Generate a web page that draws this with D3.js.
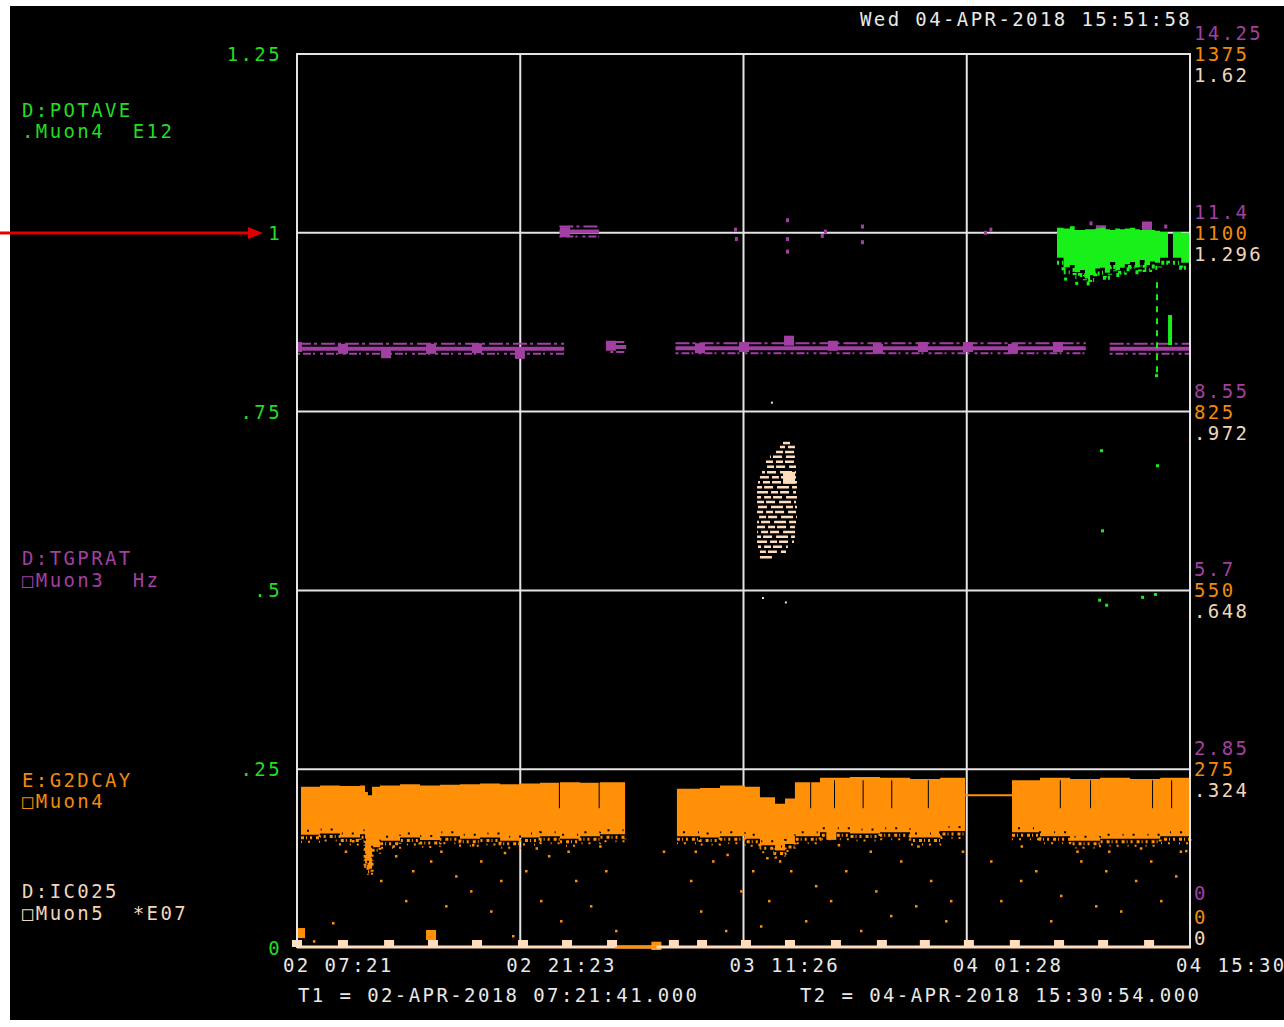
<!DOCTYPE html>
<html><head><meta charset="utf-8">
<script src="https://cdn.jsdelivr.net/npm/d3@7"></script>
<style>
body{margin:0;background:#fff}
svg{display:block}
text{font-family:"DejaVu Sans Mono","Liberation Mono",monospace;font-size:19px;letter-spacing:2.4px;white-space:pre}
</style>
</head><body><svg id="c" width="1284" height="1027"></svg>
<script>
// ---------- data ----------
const headerText = "Wed 04-APR-2018 15:51:58";
const t1Text = "T1 = 02-APR-2018 07:21:41.000";
const t2Text = "T2 = 04-APR-2018 15:30:54.000";
const spanHours = 56.1536;                       // T2 - T1 in hours
const timeTicks = [0, 14.0384, 28.0768, 42.1152, 56.1536];
const timeTickLabels = ["02 07:21","02 21:23","03 11:26","04 01:28","04 15:30"];
const leftTicks = [0, 0.25, 0.5, 0.75, 1, 1.25];
const leftTickLabels = ["0",".25",".5",".75","1","1.25"];
const purpleTickLabels = ["0","2.85","5.7","8.55","11.4","14.25"];
const orangeTickLabels = ["0","275","550","825","1100","1375"];
const paleTickLabels = ["0",".324",".648",".972","1.296","1.62"];

// D:POTAVE (green, E12, 0..1.25): [hour, high, low]
const greenBand = [
 [47.79,1.007,0.965],[48.2,1.006,0.952],[48.6,1.009,0.955],[48.9,1.004,0.945],[49.24,1.004,0.948],[49.55,1.005,0.936],
 [49.87,1.005,0.941],[50.2,1.006,0.950],[50.5,1.007,0.951],[50.8,1.005,0.944],[51.12,1.004,0.959],[51.45,1.006,0.948],
 [51.75,1.005,0.951],[52.05,1.006,0.956],[52.38,1.007,0.959],[52.7,1.005,0.952],[53.0,1.004,0.962],[53.3,1.004,0.955],
 [53.64,1.004,0.960],[53.95,1.003,0.958],[54.27,1.001,0.965],[54.77,1.001,0.962]
];
const greenBand2 = [[55.08,1.001,0.965],[55.6,1.000,0.958],[56.15,1.000,0.962]];
const greenDots = [[50.56,0.696],[50.62,0.584],[50.44,0.487],[50.88,0.480],[53.14,0.491],[53.95,0.495],[54.08,0.675],[54.02,0.801],[48.3,0.936],[49.0,0.930]];
const greenStem = [54.08, 0.931, 0.801];
const greenBar = [54.9, 0.885, 0.843];

// D:TGPRAT (purple, Hz, 0..14.25): segments [startHour, endHour, value]
const purpleSegments = [[0,16.8,9.55],[16.5,19.0,11.42],[19.7,20.7,9.58],[23.8,49.6,9.56],[51.1,56.15,9.55]];
const purpleMarkers = [[0,9.58],[2.89,9.55],[5.6,9.48],[8.43,9.55],[11.32,9.56],[14.02,9.47],[16.85,11.41],[19.74,9.6],
 [25.34,9.56],[28.11,9.58],[30.94,9.68],[33.7,9.6],[36.53,9.55],[39.36,9.58],[42.19,9.58],[45.02,9.55],[47.85,9.58],[50.56,11.44],[53.45,11.5]];
const purpleDots = [[27.54,11.45],[27.6,11.3],[30.81,11.6],[30.81,11.3],[30.81,11.1],[33.2,11.42],[33.0,11.35],[35.53,11.5],[35.53,11.25],
 [43.26,11.4],[43.6,11.45],[49.9,11.55],[51.3,11.3],[54.6,11.5],[49.5,11.35]];

// E:G2DCAY (orange, 0..1375): [hour, high, low]
const orangeBandA = [[0.25,248,174],[1.45,250,176],[2.70,249,170],[3.96,250,175],[4.28,240,130],[4.46,235,122],[4.72,248,155],
 [5.22,250,165],[6.48,252,170],[7.73,250,166],[8.99,251,172],[10.25,252,168],[11.51,253,170],[12.77,252,165],[14.02,253,170],
 [15.28,254,172],[16.54,255,168],[17.8,254,172],[19.05,255,175],[20.63,253,172]];
const orangeBandB = [[23.89,245,172],[25.34,246,170],[26.6,250,172],[28.17,248,168],[29.11,232,158],[30.06,222,150],[30.69,230,160],
 [31.31,255,172],[32.89,262,178],[34.77,263,176],[36.66,262,178],[38.55,260,170],[40.44,262,180],[42.01,258,178]];
const orangeBandC = [[44.96,258,178],[46.72,262,172],[48.61,260,165],[50.5,262,168],[52.39,260,168],[54.28,262,172],[56.15,260,175]];
const orangeBridge = [[42.01,235],[44.96,235]];
const orangeGapZero = [[20.0,0],[22.6,0]];
const orangeBreaks = [16.5,19.0,32.3,33.8,35.6,37.4,39.7,48.0,49.9,53.8,55.0];
const orangeMarkers = [[0.19,23],[8.43,20],[22.6,2],[33.6,174]];
const orangeDots = [
 [3.46,166],[4.40,128],[5.22,105],[6.16,143],[6.79,74],[7.23,120],[8.36,135],[9.31,66],[9.94,112],[10.88,89],[11.51,135],
 [12.14,58],[12.77,105],[13.52,20],[14.34,120],[15.28,74],[15.78,143],[16.54,43],[17.48,105],[18.42,66],[19.37,120],[20.0,28],
 [24.71,105],[25.34,58],[26.1,135],[26.91,28],[27.86,89],[28.61,120],[29.11,35],[29.62,74],[31.0,120],[31.94,43],[32.57,97],
 [33.51,74],[34.46,120],[35.4,28],[36.35,89],[37.29,51],[37.92,135],[38.86,66],[39.8,105],[40.75,43],[41.06,74],
 [43.58,135],[44.21,74],[45.46,105],[46.41,120],[47.35,43],[47.98,82],[49.24,135],[50.18,66],[50.81,120],[51.75,58],
 [52.69,105],[53.64,135],[54.27,74],[55.21,112],[55.84,151],[2.2,40],[1.0,12],[23.0,150],[41.8,150],
 [3.0,150],[6.0,158],[9.0,150],[11.0,160],[13.0,148],[15.0,155],[17.0,150],[19.0,158],[25.0,150],[27.0,145],[34.0,160],
 [36.0,150],[39.0,158],[45.5,158],[49.0,150],[51.0,150],[53.0,155],[55.5,150],[29.5,140],[30.3,135]
];

// D:IC025 (pale, *E07, 0..1.62): rows [startHour, endHour, value]
const paleRows = [[30.56,31.0,0.915],[30.37,31.31,0.908],[30.06,31.31,0.899],[29.74,31.31,0.890],[29.49,31.38,0.881],
 [29.37,31.38,0.872],[29.24,31.38,0.862],[29.11,31.38,0.853],[28.99,31.44,0.844],[28.93,31.44,0.835],[28.93,31.38,0.826],
 [28.93,31.44,0.817],[28.93,31.38,0.808],[28.86,31.44,0.799],[28.93,31.38,0.790],[28.93,31.44,0.781],[28.93,31.38,0.772],
 [28.93,31.31,0.763],[28.93,31.38,0.754],[28.93,31.31,0.745],[28.93,31.25,0.736],[28.99,30.87,0.727],[29.11,30.75,0.718],[29.11,30.06,0.708]];
const paleMarkerBig = [30.94,0.852];
const paleDots = [[29.24,0.636],[30.68,0.628],[29.8,0.99]];
const paleBottomMarkers = [0,2.89,5.79,8.55,11.32,14.21,16.98,19.81,23.7,25.47,28.23,31.0,33.89,36.78,39.48,42.25,45.14,47.92,50.69,53.58];

// ---------- drawing ----------
const svg = d3.select("#c");
const L = 297, R = 1190, T = 54, B = 948;
const x = d3.scaleLinear().domain([0, spanHours]).range([L, R]);
const yL = d3.scaleLinear().domain([0, 1.25]).range([B, T]);
const yP = d3.scaleLinear().domain([0, 14.25]).range([B, T]);
const yO = d3.scaleLinear().domain([0, 1375]).range([B, T]);
const yW = d3.scaleLinear().domain([0, 1.62]).range([B, T]);

const GREEN = "#19f019", GREENT = "#22dd22", PURPLE = "#a23fa2", ORANGE = "#ff9008", ORANGET = "#f08a10", PALE = "#ffdcbc", PALET = "#f0d6bc", WHITE = "#e4e4e4";

svg.append("rect").attr("x", 10).attr("y", 6).attr("width", 1274).attr("height", 1014).attr("fill", "#000");
svg.append("defs").append("clipPath").attr("id", "clip").append("rect").attr("x", L).attr("y", T - 12).attr("width", R - L + 4).attr("height", B - T + 14);

// grid
const grid = svg.append("g");
grid.selectAll("line.h").data(leftTicks.slice(1)).join("line")
  .attr("x1", L).attr("x2", R).attr("y1", d => yL(d)).attr("y2", d => yL(d))
  .attr("stroke", WHITE).attr("stroke-width", 2);
grid.selectAll("line.v").data(timeTicks).join("line")
  .attr("x1", d => x(d)).attr("x2", d => x(d)).attr("y1", T - 1).attr("y2", B)
  .attr("stroke", WHITE).attr("stroke-width", 2);

const plot = svg.append("g").attr("clip-path", "url(#clip)");

// orange band
const oArea = d3.area().x(d => x(d[0])).y0(d => yO(d[2])).y1(d => yO(d[1])).curve(d3.curveStepAfter);
[orangeBandA, orangeBandB, orangeBandC].forEach(s =>
  plot.append("path").datum(s).attr("d", oArea).attr("fill", ORANGE));
plot.selectAll("line.ob").data(orangeBreaks).join("line")
  .attr("x1", d => x(d)).attr("x2", d => x(d)).attr("y1", yO(258)).attr("y2", yO(215))
  .attr("stroke", "#000").attr("stroke-width", 1);
// ragged bottom fringe
[orangeBandA, orangeBandB, orangeBandC].forEach((s, k) => {
  plot.append("path").datum(s).attr("d", d3.line().x(d => x(d[0])).y(d => yO(d[2]) + 3).curve(d3.curveStepAfter))
    .attr("fill", "none").attr("stroke", ORANGE).attr("stroke-width", 3).attr("stroke-dasharray", "3 2 1 3 2 4");
  plot.append("path").datum(s).attr("d", d3.line().x(d => x(d[0])).y(d => yO(d[2]) + 7).curve(d3.curveStepAfter))
    .attr("fill", "none").attr("stroke", ORANGE).attr("stroke-width", 2).attr("stroke-dasharray", "1 6 2 9");
  plot.append("path").datum(s).attr("d", d3.line().x(d => x(d[0])).y(d => yO(d[2]) - 4).curve(d3.curveStepAfter))
    .attr("fill", "none").attr("stroke", "#000").attr("stroke-width", 2).attr("stroke-dasharray", "1 9 2 13").attr("stroke-dashoffset", 4);
});
plot.append("path").datum(orangeBridge).attr("d", d3.line().x(d => x(d[0])).y(d => yO(d[1])))
  .attr("stroke", ORANGE).attr("stroke-width", 2).attr("fill", "none");
plot.selectAll("rect.od").data(orangeDots).join("rect")
  .attr("x", d => x(d[0])).attr("y", d => yO(d[1])).attr("width", 2.5).attr("height", 2.5).attr("fill", ORANGE);
plot.selectAll("rect.om").data(orangeMarkers).join("rect")
  .attr("x", d => x(d[0]) - 5).attr("y", d => yO(d[1]) - 5).attr("width", 10).attr("height", 10).attr("fill", ORANGE);

// purple
const pLine = d3.line().x(d => x(d[0])).y(d => yP(d[1]));
purpleSegments.forEach(s => {
  const pts = [[s[0], s[2]], [s[1], s[2]]];
  plot.append("path").datum(pts).attr("d", pLine).attr("stroke", PURPLE).attr("stroke-width", 4).attr("fill", "none");
  plot.append("path").datum(pts).attr("d", pLine).attr("transform", "translate(0,-5)").attr("stroke", PURPLE)
    .attr("stroke-width", 2).attr("stroke-dasharray", "14 3 3 4").attr("fill", "none");
  plot.append("path").datum(pts).attr("d", pLine).attr("transform", "translate(0,5)").attr("stroke", PURPLE)
    .attr("stroke-width", 2).attr("stroke-dasharray", "3 3 8 2 2 5").attr("fill", "none");
});
plot.selectAll("rect.pd").data(purpleDots).join("rect")
  .attr("x", d => x(d[0]) - 1).attr("y", d => yP(d[1]) - 2).attr("width", 3).attr("height", 4).attr("fill", PURPLE);
plot.selectAll("rect.pm").data(purpleMarkers).join("rect")
  .attr("x", d => x(d[0]) - 5).attr("y", d => yP(d[1]) - 5).attr("width", 10).attr("height", 10).attr("fill", PURPLE);

// pale
plot.selectAll("line.pr").data(paleRows).join("line")
  .attr("x1", d => x(d[0])).attr("x2", d => x(d[1])).attr("y1", d => yW(d[2])).attr("y2", d => yW(d[2]))
  .attr("stroke", PALE).attr("stroke-width", 2.5).attr("stroke-dasharray", "12 3 7 2 9 4")
  .attr("stroke-dashoffset", (d, i) => (i * 7) % 23);
plot.append("rect").attr("x", x(paleMarkerBig[0]) - 6).attr("y", yW(paleMarkerBig[1]) - 6)
  .attr("width", 12).attr("height", 12).attr("fill", PALE);
plot.selectAll("rect.pw").data(paleDots).join("rect")
  .attr("x", d => x(d[0])).attr("y", d => yW(d[1])).attr("width", 2).attr("height", 2).attr("fill", PALE);

// green
const gArea = d3.area().x(d => x(d[0])).y0(d => yL(d[2])).y1(d => yL(d[1])).curve(d3.curveStepAfter);
[greenBand, greenBand2].forEach(s => plot.append("path").datum(s).attr("d", gArea).attr("fill", GREEN));
[greenBand, greenBand2].forEach(s =>
  plot.append("path").datum(s).attr("d", d3.line().x(d => x(d[0])).y(d => yL(d[2]) + 5).curve(d3.curveStepAfter))
    .attr("fill", "none").attr("stroke", GREEN).attr("stroke-width", 4).attr("stroke-dasharray", "2 3 1 5 3 2"));
plot.selectAll("rect.gd").data(greenDots).join("rect")
  .attr("x", d => x(d[0]) - 1).attr("y", d => yL(d[1]) - 1).attr("width", 3).attr("height", 3).attr("fill", GREEN);
plot.append("line").attr("x1", x(greenStem[0])).attr("x2", x(greenStem[0])).attr("y1", yL(greenStem[1])).attr("y2", yL(greenStem[2]))
  .attr("stroke", GREEN).attr("stroke-width", 2).attr("stroke-dasharray", "6 6");
plot.append("line").attr("x1", x(greenBar[0])).attr("x2", x(greenBar[0])).attr("y1", yL(greenBar[1])).attr("y2", yL(greenBar[2]))
  .attr("stroke", GREEN).attr("stroke-width", 4);

// bottom: orange zero run + pale zero line + pale markers
svg.append("line").attr("x1", L).attr("x2", R + 1).attr("y1", B - 1).attr("y2", B - 1).attr("stroke", PALE).attr("stroke-width", 3);
svg.append("path").datum(orangeGapZero).attr("d", d3.line().x(d => x(d[0])).y(d => yO(d[1]) - 1))
  .attr("stroke", ORANGE).attr("stroke-width", 3);
svg.selectAll("rect.bm").data(paleBottomMarkers).join("rect")
  .attr("x", d => x(d) - 5).attr("y", B - 8).attr("width", 10).attr("height", 7).attr("fill", PALE);

// frame (top, left, right)
svg.append("path").attr("d", `M${L},${B}V${T}H${R}V${B}`).attr("fill", "none").attr("stroke", WHITE).attr("stroke-width", 2);

// left axis labels
svg.selectAll("text.yl").data(leftTicks).join("text")
  .attr("x", 282).attr("y", d => yL(d) + 7).attr("text-anchor", "end").attr("fill", GREENT)
  .text((d, i) => leftTickLabels[i]);

// right axis labels (at zero the three stack above the baseline)
const rx = 1194;
svg.selectAll("text.rp").data(leftTicks).join("text").attr("x", rx).attr("y", d => d === 0 ? yL(d) - 48 : yL(d) - 14).attr("fill", PURPLE).text((d, i) => purpleTickLabels[i]);
svg.selectAll("text.ro").data(leftTicks).join("text").attr("x", rx).attr("y", d => d === 0 ? yL(d) - 24 : yL(d) + 7).attr("fill", ORANGET).text((d, i) => orangeTickLabels[i]);
svg.selectAll("text.rw").data(leftTicks).join("text").attr("x", rx).attr("y", d => d === 0 ? yL(d) - 3 : yL(d) + 28).attr("fill", PALET).text((d, i) => paleTickLabels[i]);

// bottom time labels
svg.selectAll("text.tx").data(timeTicks).join("text")
  .attr("x", d => x(d) - 14).attr("y", 972).attr("fill", "#e8e8e8").text((d, i) => timeTickLabels[i]);
svg.append("text").attr("x", 298).attr("y", 1002).attr("fill", "#e8e8e8").text(t1Text);
svg.append("text").attr("x", 800).attr("y", 1002).attr("fill", "#e8e8e8").text(t2Text);
svg.append("text").attr("x", 860).attr("y", 26).attr("fill", "#e8e8e8").text(headerText);

// legends
const legends = [
  ["D:POTAVE", 117, GREENT], [".Muon4  E12", 138, GREENT],
  ["D:TGPRAT", 565, PURPLE], ["\u25A1Muon3  Hz", 587, PURPLE],
  ["E:G2DCAY", 787, ORANGET], ["\u25A1Muon4", 808, ORANGET],
  ["D:IC025", 898, PALET], ["\u25A1Muon5  *E07", 920, PALET]
];
svg.selectAll("text.lg").data(legends).join("text").attr("x", 22).attr("y", d => d[1]).attr("fill", d => d[2]).text(d => d[0]);

// red arrow
svg.append("line").attr("x1", 0).attr("x2", 250).attr("y1", 233).attr("y2", 233).attr("stroke", "#e00000").attr("stroke-width", 3);
svg.append("path").attr("d", "M248,227L263,233L248,239Z").attr("fill", "#e00000");
</script>
</body></html>
